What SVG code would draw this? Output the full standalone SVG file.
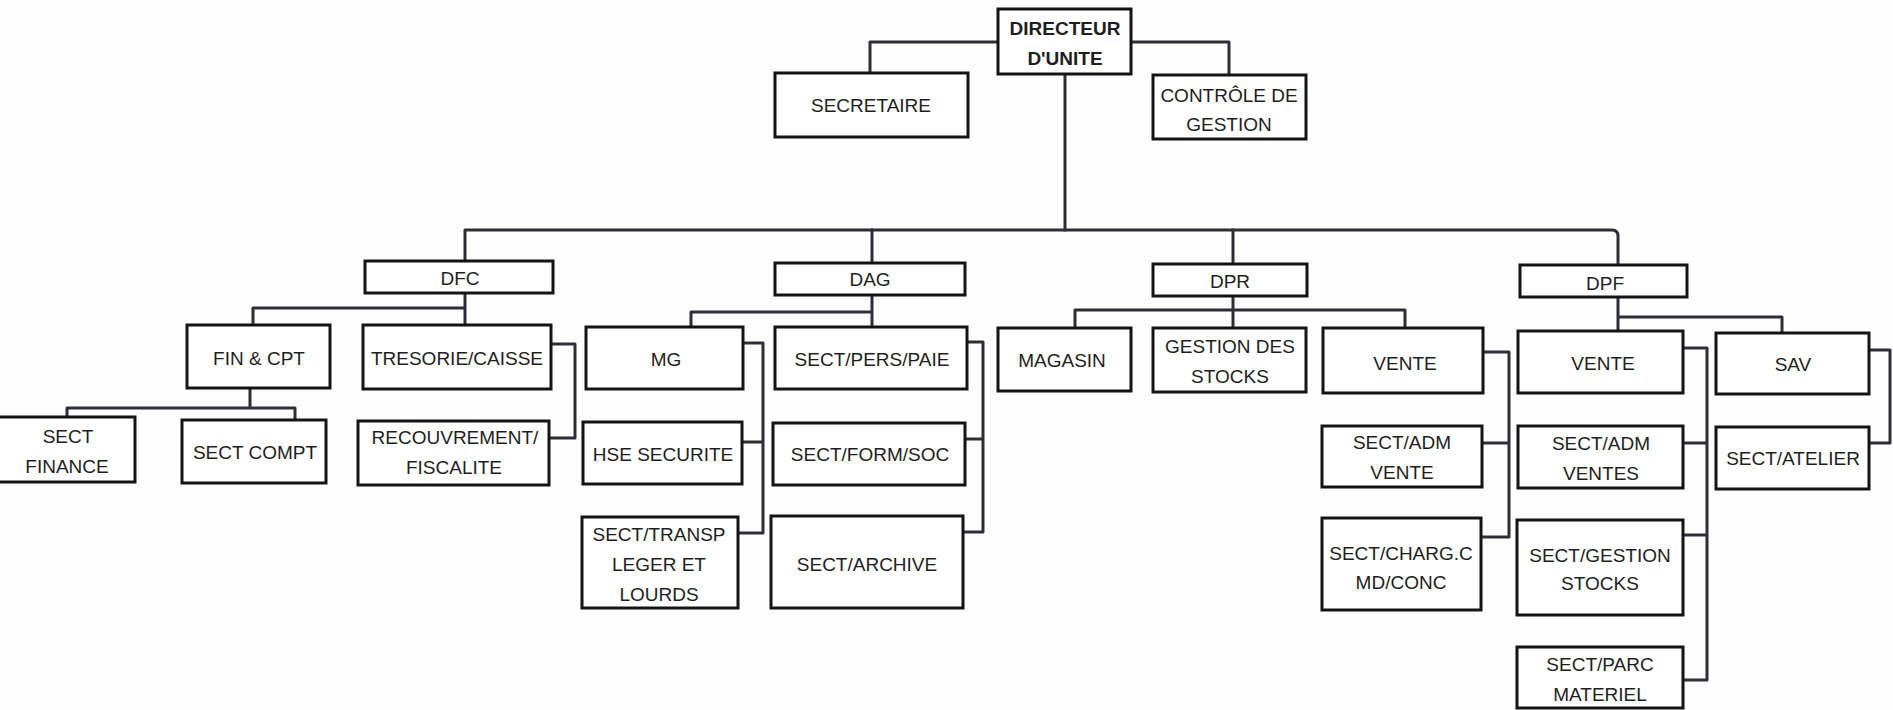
<svg xmlns="http://www.w3.org/2000/svg" width="1893" height="710" viewBox="0 0 1893 710">
<style>
.box{fill:#fff;stroke:#141414;stroke-width:3}
.t{font-family:"Liberation Sans",Arial,sans-serif;font-size:19px;fill:#1e1e1e;text-anchor:middle}
.b{font-weight:bold}
.c{fill:none;stroke:#2e2e3a;stroke-width:3;stroke-linejoin:round;stroke-linecap:square}
</style>
<rect width="1893" height="710" fill="#fdfdfd"/>
<g id="connectors">
<path class="c" d="M1065,74V230"/>
<path class="c" d="M998,42H870V73"/>
<path class="c" d="M1131,42H1229V75"/>
<path class="c" d="M465,261V230H1612Q1618,230 1618,236V265"/>
<path class="c" d="M872,230V263"/>
<path class="c" d="M1233,230V264"/>
<path class="c" d="M465,293V325M465,308H253V325"/>
<path class="c" d="M250,388V408M67,417V408H295V420"/>
<path class="c" d="M551,344H575V438H549"/>
<path class="c" d="M872,295V327M872,312H691V327"/>
<path class="c" d="M743,343H763V533H738M742,442H763"/>
<path class="c" d="M967,342H983V532H963M965,439H983"/>
<path class="c" d="M1233,296V328M1075,328V310H1405V328"/>
<path class="c" d="M1483,352H1509V537H1481M1482,443H1509"/>
<path class="c" d="M1618,297V331M1618,317H1782V333"/>
<path class="c" d="M1683,348H1707V680H1683M1683,443H1707M1683,535H1707"/>
<path class="c" d="M1869,350H1890V443H1869"/>
</g>
<g id="directeur"><rect class="box" x="998" y="9" width="133" height="65"/><text class="t b" x="1065" y="35">DIRECTEUR</text><text class="t b" x="1065" y="65">D'UNITE</text></g>
<g id="secretaire"><rect class="box" x="775" y="73" width="193" height="64"/><text class="t" x="871" y="112">SECRETAIRE</text></g>
<g id="controle"><rect class="box" x="1153" y="75" width="153" height="64"/><text class="t" x="1229" y="102">CONTRÔLE DE</text><text class="t" x="1229" y="131">GESTION</text></g>
<g id="dfc"><rect class="box" x="365" y="261" width="188" height="32"/><text class="t" x="460" y="285">DFC</text></g>
<g id="fin-cpt"><rect class="box" x="187" y="325" width="143" height="63"/><text class="t" x="259" y="365">FIN &amp; CPT</text></g>
<g id="tresorie"><rect class="box" x="363" y="325" width="188" height="64"/><text class="t" x="457" y="365">TRESORIE/CAISSE</text></g>
<g id="sect-finance"><path class="box" d="M-3,417H135V482H-3"/><text class="t" x="68" y="443">SECT</text><text class="t" x="67" y="473">FINANCE</text></g>
<g id="sect-compt"><rect class="box" x="182" y="420" width="144" height="63"/><text class="t" x="255" y="459">SECT COMPT</text></g>
<g id="recouvrement"><rect class="box" x="358" y="421" width="191" height="64"/><text class="t" x="455" y="444">RECOUVREMENT/</text><text class="t" x="454" y="474">FISCALITE</text></g>
<g id="dag"><rect class="box" x="775" y="263" width="190" height="32"/><text class="t" x="870" y="286">DAG</text></g>
<g id="mg"><rect class="box" x="586" y="327" width="157" height="62"/><text class="t" x="666" y="366">MG</text></g>
<g id="sect-pers-paie"><rect class="box" x="775" y="327" width="192" height="62"/><text class="t" x="872" y="366">SECT/PERS/PAIE</text></g>
<g id="hse"><rect class="box" x="583" y="422" width="159" height="62"/><text class="t" x="663" y="461">HSE SECURITE</text></g>
<g id="sect-form-soc"><rect class="box" x="773" y="423" width="192" height="62"/><text class="t" x="870" y="461">SECT/FORM/SOC</text></g>
<g id="sect-transp"><rect class="box" x="582" y="517" width="156" height="91"/><text class="t" x="659" y="541">SECT/TRANSP</text><text class="t" x="659" y="571">LEGER ET</text><text class="t" x="659" y="601">LOURDS</text></g>
<g id="sect-archive"><rect class="box" x="771" y="516" width="192" height="92"/><text class="t" x="867" y="571">SECT/ARCHIVE</text></g>
<g id="dpr"><rect class="box" x="1153" y="264" width="154" height="32"/><text class="t" x="1230" y="288">DPR</text></g>
<g id="magasin"><rect class="box" x="998" y="328" width="133" height="63"/><text class="t" x="1062" y="367">MAGASIN</text></g>
<g id="gestion-stocks"><rect class="box" x="1153" y="328" width="153" height="64"/><text class="t" x="1230" y="353">GESTION DES</text><text class="t" x="1230" y="383">STOCKS</text></g>
<g id="vente-dpr"><rect class="box" x="1323" y="328" width="160" height="65"/><text class="t" x="1405" y="370">VENTE</text></g>
<g id="sect-adm-vente"><rect class="box" x="1322" y="426" width="160" height="61"/><text class="t" x="1402" y="449">SECT/ADM</text><text class="t" x="1402" y="479">VENTE</text></g>
<g id="sect-charg"><rect class="box" x="1322" y="518" width="159" height="92"/><text class="t" x="1401" y="560">SECT/CHARG.C</text><text class="t" x="1401" y="589">MD/CONC</text></g>
<g id="dpf"><rect class="box" x="1520" y="265" width="167" height="32"/><text class="t" x="1605" y="290">DPF</text></g>
<g id="vente-dpf"><rect class="box" x="1518" y="331" width="165" height="62"/><text class="t" x="1603" y="370">VENTE</text></g>
<g id="sav"><rect class="box" x="1716" y="333" width="153" height="61"/><text class="t" x="1793" y="371">SAV</text></g>
<g id="sect-adm-ventes"><rect class="box" x="1518" y="426" width="165" height="62"/><text class="t" x="1601" y="450">SECT/ADM</text><text class="t" x="1601" y="480">VENTES</text></g>
<g id="sect-atelier"><rect class="box" x="1716" y="427" width="153" height="62"/><text class="t" x="1793" y="465">SECT/ATELIER</text></g>
<g id="sect-gestion-stocks"><rect class="box" x="1517" y="520" width="166" height="95"/><text class="t" x="1600" y="562">SECT/GESTION</text><text class="t" x="1600" y="590">STOCKS</text></g>
<g id="sect-parc"><rect class="box" x="1517" y="647" width="166" height="61"/><text class="t" x="1600" y="671">SECT/PARC</text><text class="t" x="1600" y="701">MATERIEL</text></g>
</svg>
